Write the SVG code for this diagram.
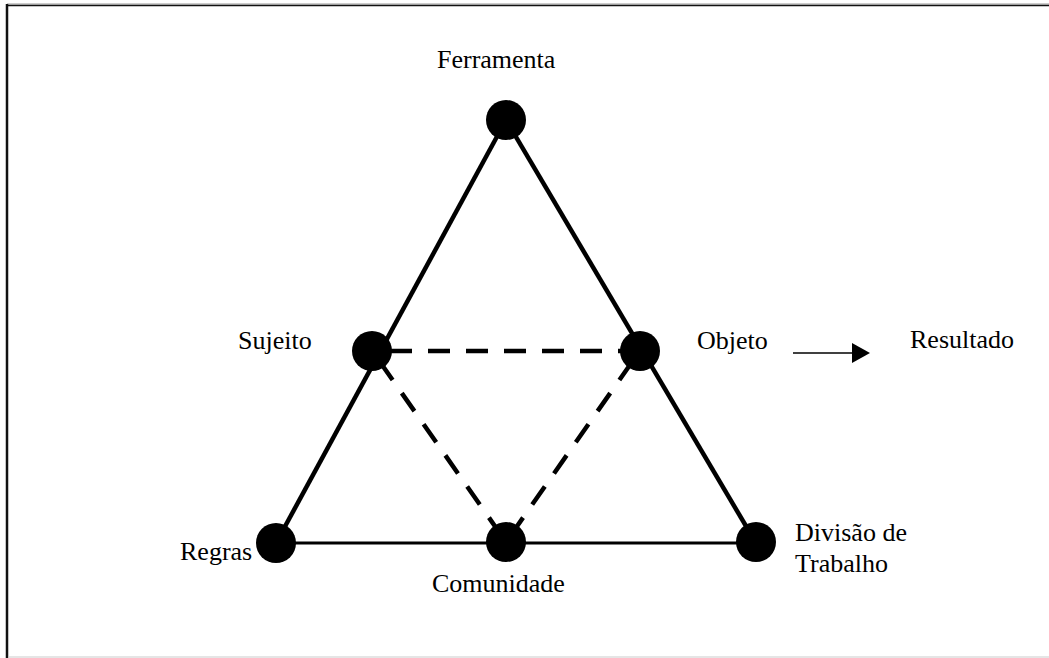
<svg xmlns="http://www.w3.org/2000/svg" width="1049" height="658" viewBox="0 0 1049 658">
  <style>
    .lbl { font-family: "Liberation Serif", "Times New Roman", serif; font-size: 26px; fill: #000; }
    .node { fill: #000; }
    .solid { stroke: #000; stroke-width: 4.5; fill: none; }
    .base { stroke: #000; stroke-width: 3.2; fill: none; }
    .dash { stroke: #000; stroke-width: 4.5; fill: none; stroke-dasharray: 22 16; }
    .arrow { stroke: #000; stroke-width: 1.6; fill: none; }
  </style>
  <defs>
    <marker id="ah" markerUnits="userSpaceOnUse" markerWidth="20" markerHeight="22" refX="0" refY="10" orient="auto">
      <path d="M0,0 L18,10 L0,20 Z" fill="#000"/>
    </marker>
  </defs>
  <rect x="0" y="0" width="1049" height="658" fill="#fff"/>
  <g id="frame">
    <line x1="7" y1="4" x2="1049" y2="4" stroke="#999" stroke-width="1"/>
    <line x1="7" y1="5.5" x2="1049" y2="5.5" stroke="#111" stroke-width="1.5"/>
    <line x1="7" y1="4" x2="7" y2="658" stroke="#111" stroke-width="2.5"/>
    <line x1="8" y1="657" x2="1049" y2="657" stroke="#ccc" stroke-width="1.2"/>
  </g>
  <g id="connectors">
    <line class="solid" x1="506" y1="120" x2="276" y2="543"/>
    <line class="solid" x1="506" y1="120" x2="756" y2="543"/>
    <line class="base" x1="276" y1="543" x2="756" y2="543"/>
    <line class="dash" x1="390" y1="351" x2="640" y2="351"/>
    <line class="dash" x1="380" y1="362" x2="506" y2="542"/>
    <line class="dash" x1="632" y1="362" x2="506" y2="542"/>
    <line class="arrow" x1="793" y1="353" x2="852" y2="353" marker-end="url(#ah)"/>
  </g>
  <g id="node-ferramenta">
    <circle class="node" cx="506" cy="120" r="20"/>
    <text class="lbl" x="437" y="68">Ferramenta</text>
  </g>
  <g id="node-sujeito">
    <circle class="node" cx="372" cy="351" r="20"/>
    <text class="lbl" x="238" y="349">Sujeito</text>
  </g>
  <g id="node-objeto">
    <circle class="node" cx="640" cy="351" r="20"/>
    <text class="lbl" x="697" y="349">Objeto</text>
  </g>
  <g id="node-resultado">
    <text class="lbl" x="910" y="348">Resultado</text>
  </g>
  <g id="node-regras">
    <circle class="node" cx="276" cy="543" r="20"/>
    <text class="lbl" x="180" y="560">Regras</text>
  </g>
  <g id="node-comunidade">
    <circle class="node" cx="506" cy="542" r="20"/>
    <text class="lbl" x="432" y="592">Comunidade</text>
  </g>
  <g id="node-divisao">
    <circle class="node" cx="756" cy="542" r="20"/>
    <text class="lbl" x="795" y="541">Divisão de</text>
    <text class="lbl" x="795" y="572">Trabalho</text>
  </g>
</svg>
